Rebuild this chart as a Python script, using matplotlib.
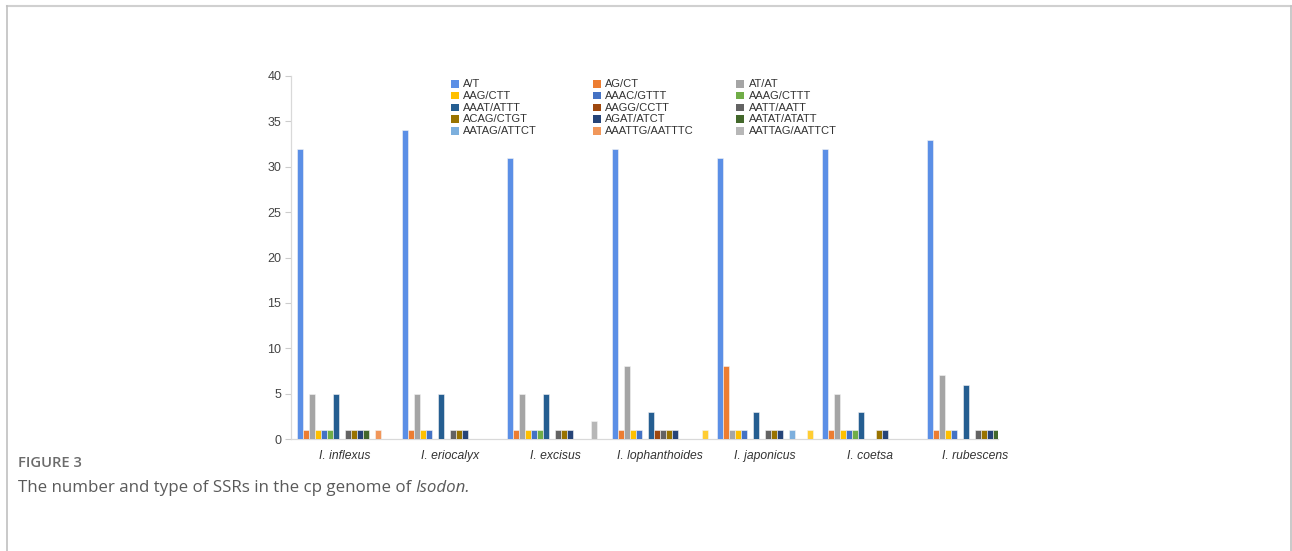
import matplotlib
matplotlib.use("Agg")
import matplotlib.pyplot as plt
from matplotlib.patches import Rectangle
from matplotlib.lines import Line2D
import numpy as np

W, H = 1292, 551

categories = ["I. inflexus", "I. eriocalyx", "I. excisus", "I. lophanthoides",
              "I. japonicus", "I. coetsa", "I. rubescens"]

series_names = ["A/T", "AG/CT", "AT/AT", "AAG/CTT", "AAAC/GTTT", "AAAG/CTTT",
                "AAAT/ATTT", "AAGG/CCTT", "AATT/AATT", "ACAG/CTGT", "AGAT/ATCT",
                "AATAT/ATATT", "AATAG/ATTCT", "AAATTG/AATTTC", "AATTAG/AATTCT", ""]

at_at1 = [32, 34, 31, 32, 31, 32, 33]
ag_ct = [1, 1, 1, 1, 8, 1, 1]
at_at = [5, 5, 5, 8, 1, 5, 7]
aag_ctt = [1, 1, 1, 1, 1, 1, 1]
aaac_gttt = [1, 1, 1, 1, 1, 1, 1]
aaag_cttt = [1, 0, 1, 0, 0, 1, 0]
aaat_attt = [5, 5, 5, 3, 3, 3, 6]
aagg_cctt = [0, 0, 0, 1, 0, 0, 0]
aatt_aatt = [1, 1, 1, 1, 1, 0, 1]
acag_ctgt = [1, 1, 1, 1, 1, 1, 1]
agat_atct = [1, 1, 1, 1, 1, 1, 1]
aatat_atatt = [1, 0, 0, 0, 0, 0, 1]
aatag_attct = [0, 0, 0, 0, 1, 0, 0]
aaattg_aatttc = [1, 0, 0, 0, 0, 0, 0]
aattag_aattct = [0, 0, 2, 0, 0, 0, 0]
unlabeled = [0, 0, 0, 1, 1, 0, 0]

series_values = [at_at1, ag_ct, at_at, aag_ctt, aaac_gttt, aaag_cttt, aaat_attt,
                 aagg_cctt, aatt_aatt, acag_ctgt, agat_atct, aatat_atatt,
                 aatag_attct, aaattg_aatttc, aattag_aattct, unlabeled]

colors = ["#5B8FE6", "#ED7D31", "#A5A5A5", "#FFC000", "#4472C4", "#70AD47",
          "#255E91", "#9E480E", "#636363", "#997300", "#264478", "#43682B",
          "#7CAFDD", "#F1975A", "#B7B7B7", "#FFCD33"]

y_ticks = [0, 5, 10, 15, 20, 25, 30, 35, 40]

plt.rcParams['font.family'] = ['Liberation Sans', 'DejaVu Sans']

fig = plt.figure(figsize=(W / 100, H / 100), dpi=100)

def fx(px):
    return px / W

def fy(py):
    return 1 - py / H

ax_left, ax_right, ax_top, ax_bottom = 291, 998, 76, 439
ax = fig.add_axes([fx(ax_left), fy(ax_bottom), fx(ax_right) - fx(ax_left),
                   fy(ax_top) - fy(ax_bottom)])

group_px = 105.0
bar_w = 6.0 / group_px
n = len(series_values)
x = np.arange(len(categories))
for i, (vals, c) in enumerate(zip(series_values, colors)):
    ax.bar(x + (i - (n - 1) / 2) * bar_w, vals, width=bar_w, color=c,
           edgecolor="#f4f4f4", linewidth=0.4, zorder=3)

ax.set_xlim((ax_left - 345) / group_px, (ax_right - 345) / group_px)
ax.set_ylim(0, 40)
ax.set_yticks(y_ticks)
ax.set_yticklabels([str(t) for t in y_ticks], fontsize=9, color="#444444")
ax.set_xticks(x)
ax.set_xticklabels(categories, fontsize=8.7, style="italic", color="#333333")
ax.tick_params(axis="x", length=0, pad=8)
ax.tick_params(axis="y", length=4, color="#cccccc", width=0.8, pad=3)
for s in ["top", "right"]:
    ax.spines[s].set_visible(False)
ax.spines["left"].set_color("#d9d9d9")
ax.spines["bottom"].set_color("#d9d9d9")
ax.spines["left"].set_linewidth(0.9)
ax.spines["bottom"].set_linewidth(0.9)

# legend (15 labelled series, row-major in 3 columns)
col_sq = [451, 593, 736]
col_tx = [463, 605, 749]
for k in range(15):
    r, cidx = divmod(k, 3)
    yc = 84 + 11.8 * r
    fig.patches.append(Rectangle((fx(col_sq[cidx]), fy(yc + 3.5)), 7.5 / W, 7.5 / H,
                                 transform=fig.transFigure, facecolor=colors[k],
                                 edgecolor="none", figure=fig))
    fig.text(fx(col_tx[cidx]), fy(yc), series_names[k], fontsize=8.0,
             color="#333333", va="center", ha="left")

# outer frame
frame_c = "#d0d0d0"
fig.add_artist(Line2D([fx(6.5), fx(1290.5)], [fy(6), fy(6)], color=frame_c,
                      lw=1.5, transform=fig.transFigure))
fig.add_artist(Line2D([fx(6.5), fx(6.5)], [fy(6), 0], color="#c0c0c0",
                      lw=1.2, transform=fig.transFigure))
fig.add_artist(Line2D([fx(1290.5), fx(1290.5)], [fy(6), 0], color="#c0c0c0",
                      lw=1.2, transform=fig.transFigure))

# caption
cap_font = ["Open Sans", "DejaVu Sans"]
fig.text(fx(18), fy(463), "FIGURE 3", fontsize=10.6, fontweight="semibold",
         color="#6b6b6b", va="center", ha="left", family=cap_font)
t1 = fig.text(fx(18), fy(488), "The number and type of SSRs in the cp genome of ",
              fontsize=12.2, color="#5a5a5a", va="center", ha="left", family=cap_font)
renderer = fig.canvas.get_renderer()
bb = t1.get_window_extent(renderer=renderer)
fig.text(bb.x1 / W, fy(488), "Isodon.", fontsize=12.2, color="#5a5a5a",
         style="italic", va="center", ha="left", family=cap_font)

fig.savefig("out.png", dpi=100)
